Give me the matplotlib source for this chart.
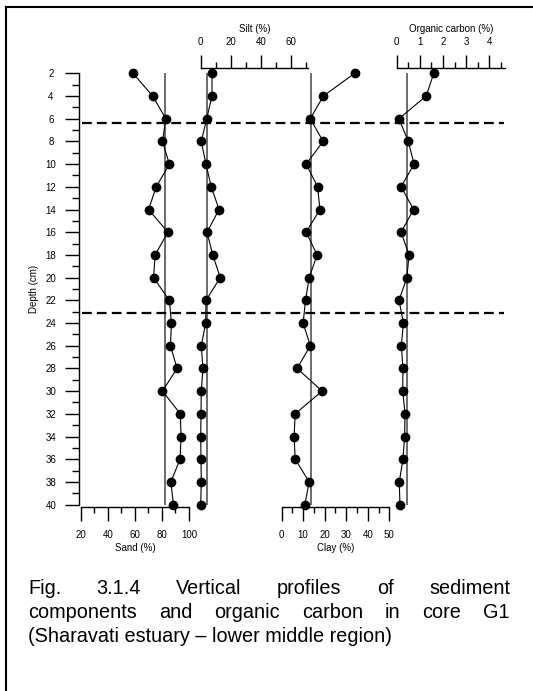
import numpy as np
import matplotlib
matplotlib.use("Agg")
import matplotlib.pyplot as plt
from matplotlib.lines import Line2D
from matplotlib.ticker import MultipleLocator
import matplotlib.transforms as mtransforms

plt.rcParams['font.family'] = ['Liberation Sans', 'DejaVu Sans']

# ---------------- data ----------------
depth = [2, 4, 6, 8, 10, 12, 14, 16, 18, 20, 22, 24, 26, 28, 30, 32, 34, 36, 38, 40]
sand = [58.7, 73.1, 82.9, 80.4, 85.5, 75.8, 70.1, 84.4, 75.0, 73.8,
        85.5, 87.0, 86.3, 91.2, 80.4, 93.6, 94.1, 93.4, 86.6, 88.5]
silt = [7.5, 7.5, 4.0, 0.4, 3.5, 7.0, 12.2, 4.2, 8.0, 13.0,
        3.5, 3.3, 0.4, 1.5, 0.4, 0.2, 0.0, 0.2, 0.4, 0.0]
clay = [33.9, 19.4, 13.3, 19.3, 11.4, 16.7, 17.8, 11.4, 16.5, 12.8,
        11.1, 10.0, 13.3, 7.2, 18.8, 6.3, 5.8, 6.3, 12.8, 10.8]
oc = [1.60, 1.27, 0.10, 0.50, 0.75, 0.19, 0.73, 0.19, 0.53, 0.44,
      0.10, 0.29, 0.20, 0.27, 0.26, 0.36, 0.34, 0.27, 0.11, 0.14]
boundaries = [6.42, 23.1]

sand_ticks = [20, 40, 60, 80, 100]
silt_ticks = [0, 20, 40, 60]
clay_ticks = [0, 10, 20, 30, 40, 50]
oc_ticks = [0, 1, 2, 3, 4]

caption_lines = [
    "Fig. 3.1.4 Vertical profiles of sediment",
    "components and organic carbon in core G1",
    "(Sharavati estuary \u2013 lower middle region)",
]

# ---------------- layout ----------------
W, H = 533, 691
fig = plt.figure(figsize=(W / 100, H / 100), dpi=100)
fig.patch.set_facecolor('white')

Y_TOP, Y_BOT = 67.7, 507.0
D_TOP, D_BOT = 1.507, 40.21
TICK_FS = 7


def px_axes(x0, x1):
    ax = fig.add_axes([x0 / W, 1 - Y_BOT / H, (x1 - x0) / W, (Y_BOT - Y_TOP) / H])
    ax.patch.set_visible(False)
    ax.set_ylim(D_BOT, D_TOP)
    for s in ax.spines.values():
        s.set_visible(False)
        s.set_linewidth(1.0)
    return ax


def profile(ax, vals):
    ax.vlines(np.mean(vals), depth[0], depth[-1], color='#444444', lw=1.1, zorder=1)
    ax.plot(vals, depth, color='black', lw=0.8, marker='o', ms=6.0,
            mfc='black', mec='black', zorder=3, clip_on=False)


def bottom_axis(ax, ticks, minor, label, lpad):
    ax.spines['bottom'].set_visible(True)
    ax.xaxis.set_ticks_position('bottom')
    ax.set_xticks(ticks)
    ax.xaxis.set_minor_locator(MultipleLocator(minor))
    ax.tick_params(axis='x', which='major', direction='out', length=9.8, width=1.0,
                   pad=7.0, labelsize=TICK_FS)
    ax.tick_params(axis='x', which='minor', direction='out', length=4.6, width=1.0)
    ax.set_xlabel(label, fontsize=TICK_FS, labelpad=lpad)


def top_axis(ax, ticks, minor, label, lpad):
    ax.spines['top'].set_visible(True)
    ax.xaxis.set_ticks_position('top')
    ax.xaxis.set_label_position('top')
    ax.set_xticks(ticks)
    ax.xaxis.set_minor_locator(MultipleLocator(minor))
    ax.tick_params(axis='x', which='major', direction='out', length=9.2, width=1.0,
                   pad=6.0, labelsize=TICK_FS, top=True, bottom=False,
                   labeltop=True, labelbottom=False)
    ax.tick_params(axis='x', which='minor', direction='out', length=4.2, width=1.0,
                   top=True, bottom=False)
    ax.set_xlabel(label, fontsize=TICK_FS, labelpad=lpad)


# Sand panel (with depth axis)
ax_sand = px_axes(80.7, 189.0)
ax_sand.set_xlim(20, 100)
profile(ax_sand, sand)
bottom_axis(ax_sand, sand_ticks, 10, "Sand (%)", 2.0)
ax_sand.spines['left'].set_visible(True)
ax_sand.spines['left'].set_position(('outward', 1.2))
ax_sand.spines['left'].set_bounds(depth[0], depth[-1])
ax_sand.set_yticks(depth)
ax_sand.set_yticks([d + 1 for d in depth[:-1]], minor=True)
ax_sand.tick_params(axis='y', which='major', direction='out', length=10.2, width=1.0,
                    pad=10.0, labelsize=TICK_FS)
ax_sand.tick_params(axis='y', which='minor', direction='out', length=5.0, width=1.0)
for lab in ax_sand.get_yticklabels():
    lab.set_horizontalalignment('center')
fig.text(34 / W, 1 - 289 / H, "Depth (cm)", rotation=90, ha='center', va='center',
         fontsize=TICK_FS)

# Silt panel
ax_silt = px_axes(200.7, 308.3)
ax_silt.set_xlim(0, 71.5)
profile(ax_silt, silt)
top_axis(ax_silt, silt_ticks, 10, "Silt (%)", 3.0)
ax_silt.set_yticks([])

# Clay panel
ax_clay = px_axes(281.6, 389.3)
ax_clay.set_xlim(0, 50)
profile(ax_clay, clay)
bottom_axis(ax_clay, clay_ticks, 5, "Clay (%)", 2.0)
ax_clay.set_yticks([])

# Organic carbon panel
ax_oc = px_axes(396.7, 505.0)
ax_oc.set_xlim(0, 4.67)
profile(ax_oc, oc)
top_axis(ax_oc, oc_ticks, 0.5, "Organic carbon (%)", 3.0)
ax_oc.set_yticks([])

# Boundary dashed lines across panels
btrans = mtransforms.blended_transform_factory(fig.transFigure, ax_sand.transData)
for b in boundaries:
    fig.add_artist(Line2D([81.7 / W, 504 / W], [b, b], transform=btrans, color='black',
                          lw=1.6, linestyle=(0, (4.4, 2.3)), zorder=5))

# Frame (top and left border of the text box)
fig.add_artist(Line2D([6 / W, 1.0], [1 - 7 / H, 1 - 7 / H], transform=fig.transFigure,
                      color='black', lw=1.5))
fig.add_artist(Line2D([6 / W, 6 / W], [0, 1 - 7 / H], transform=fig.transFigure,
                      color='black', lw=1.5))

# Caption (justified like the source)
CAP_FS = 14.3
renderer = fig.canvas.get_renderer()
X0, X1 = 28.0, 510.0
base_y = 594.0
for i, line in enumerate(caption_lines):
    y = 1 - (base_y + 24.0 * i) / H
    words = line.split(" ")
    if i == len(caption_lines) - 1:
        fig.text(X0 / W, y, line, fontsize=CAP_FS, ha='left', va='baseline')
        continue
    texts = [fig.text(0, y, w, fontsize=CAP_FS, ha='left', va='baseline') for w in words]
    widths = [t.get_window_extent(renderer=renderer).width for t in texts]
    gap = (X1 - X0 - sum(widths)) / (len(words) - 1)
    x = X0
    for t, wdt in zip(texts, widths):
        t.set_x(x / W)
        x += wdt + gap

fig.savefig("out.png", dpi=100, facecolor='white')
